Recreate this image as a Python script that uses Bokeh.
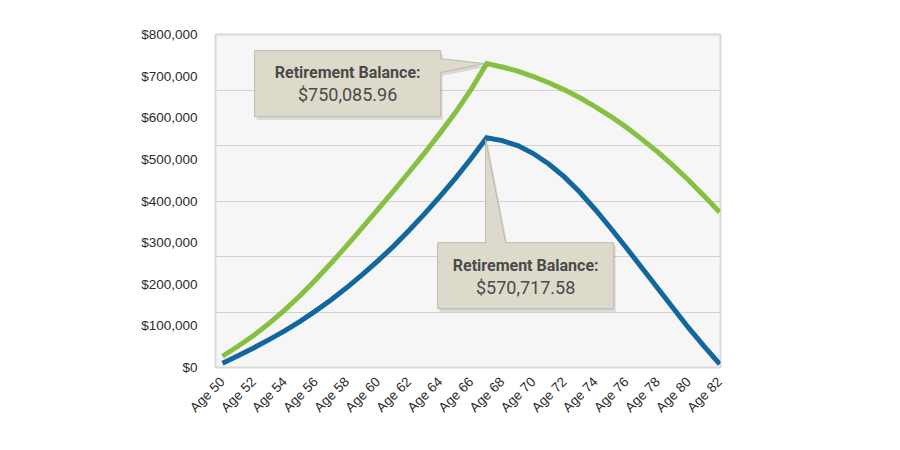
import math
from bokeh.plotting import figure
from bokeh.models import Range1d, FixedTicker, NumeralTickFormatter, Label
from bokeh.embed import file_html
from bokeh.resources import INLINE

# ---- data -------------------------------------------------------------
ages = list(range(50, 83))
# balances in thousands of dollars
green_k = [27, 51, 77, 106, 138, 173, 211, 251, 293, 336, 380, 424, 469, 515, 563, 613, 668, 730,
           722, 712, 699, 684, 667, 648, 626, 603, 577, 548, 518, 485, 450, 412, 373]
blue_k = [10, 28, 47, 67, 88, 111, 136, 163, 192, 223, 256, 291, 329, 369, 411, 455, 502, 552,
          545, 533, 514, 489, 458, 421, 379, 334, 287, 239, 191, 143, 95, 51, 8]
green = [v * 1000 for v in green_k]
blue = [v * 1000 for v in blue_k]

x_ticks = list(range(50, 83, 2))
x_labels = ["Age %d" % a for a in x_ticks]
y_ticks = [0, 100000, 200000, 300000, 400000, 500000, 600000, 700000, 800000]
grid_lines = [800000 * k / 6 for k in range(1, 6)]

callout_title = "Retirement Balance:"
green_text = "$750,085.96"
blue_text = "$570,717.58"
peak_age = 67

# ---- layout -----------------------------------------------------------
W, H = 880, 430
BL, BT = 215, 34
FW, FH = 505, 333
BR, BB = W - BL - FW, H - BT - FH
x0, x1 = 49.55, 82.05
y0, y1 = 0, 800000
XPX = (x1 - x0) / FW
YPX = (y1 - y0) / FH

p = figure(width=W, height=H, output_backend="svg", toolbar_location=None,
           x_range=Range1d(x0, x1), y_range=Range1d(y0, y1),
           min_border_left=BL, min_border_right=BR, min_border_top=BT, min_border_bottom=BB,
           background_fill_color="#f6f6f6", border_fill_color="white")
p.outline_line_color = "#d9d9d9"
p.outline_line_width = 2

p.xgrid.visible = False
p.ygrid.ticker = FixedTicker(ticks=grid_lines)
p.ygrid.grid_line_color = "#d2d2d2"
p.ygrid.grid_line_width = 1

p.yaxis.ticker = FixedTicker(ticks=y_ticks)
p.yaxis.formatter = NumeralTickFormatter(format="$0,0")
p.xaxis.ticker = FixedTicker(ticks=x_ticks)
p.xaxis.major_label_overrides = {t: l for t, l in zip(x_ticks, x_labels)}
p.xaxis.major_label_orientation = math.pi / 4
for ax in (p.xaxis, p.yaxis):
    ax.axis_line_color = None
    ax.major_tick_line_color = None
    ax.minor_tick_line_color = None
    ax.major_label_text_font = "Liberation Sans"
    ax.major_label_text_font_size = "13.5px"
    ax.major_label_text_color = "#2b2b2b"
p.yaxis.major_label_standoff = 12
p.xaxis.major_label_standoff = 6

p.line(ages, green, line_color="#86c041", line_width=5, line_join="miter")
p.line(ages, blue, line_color="#12679f", line_width=5, line_join="miter")

FILL = "#dedacb"
EDGE = "#bcb8a9"
TXT = "#4a4a4a"


def pts(ax, ay, offs):
    return [ax + dx * XPX for dx, dy in offs], [ay - dy * YPX for dx, dy in offs]


def callout(ax, ay, offs, text_pos, amount):
    xs, ys = pts(ax, ay, [(dx + 2, dy + 3) for dx, dy in offs])
    p.patch(xs, ys, fill_color="black", fill_alpha=0.12, line_color=None)
    xs, ys = pts(ax, ay, offs)
    p.patch(xs, ys, fill_color=FILL, line_color=EDGE, line_width=1)
    tx, ty = text_pos
    lx, ly = pts(ax, ay, [(tx, ty), (tx, ty + 22)])
    p.add_layout(Label(x=lx[0], y=ly[0], text=callout_title, text_align="center",
                       text_baseline="middle", text_font="Roboto", text_font_style="bold",
                       text_font_size="16px", text_color=TXT))
    p.add_layout(Label(x=lx[1], y=ly[1], text=amount, text_align="center",
                       text_baseline="middle", text_font="Roboto",
                       text_font_size="18px", text_color=TXT))


gi = ages.index(peak_age)
callout(ages[gi], green[gi],
        [(-232, -13), (-46, -13), (-46, -5), (-2, 0), (-46, 9), (-46, 53), (-232, 53)],
        (-139, 9), green_text)
callout(ages[gi], blue[gi],
        [(-49, 105), (-1, 105), (-1, 2), (19, 105), (127, 105), (127, 171), (-49, 171)],
        (39, 128), blue_text)

open("out.html", "w").write(file_html(p, INLINE))
